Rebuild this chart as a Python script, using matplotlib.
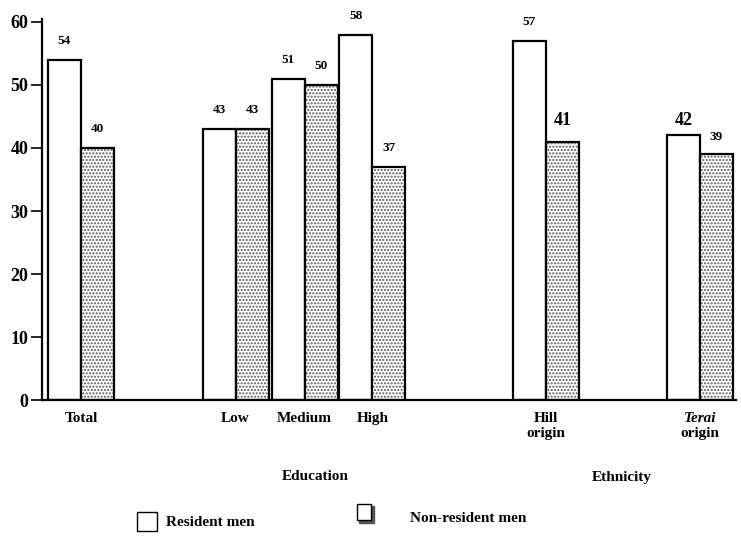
import numpy as np
import matplotlib
matplotlib.use("Agg")
import matplotlib.pyplot as plt
import matplotlib.patches as mpatches

categories = ["Total", "Low", "Medium", "High", "Hill\norigin", "Terai\norigin"]
resident = [54, 43, 51, 58, 57, 42]
non_resident = [40, 43, 50, 37, 41, 39]
positions = [1.18, 5.86, 7.95, 10.0, 15.26, 19.92]
yticks = [0, 10, 20, 30, 40, 50, 60]

plt.rcParams['font.family'] = ['Liberation Serif', 'DejaVu Serif']
plt.rcParams['hatch.linewidth'] = 1.0

fig = plt.figure(figsize=(7.41, 5.37), dpi=100)
ax = fig.add_axes([0.0567, 0.255, 0.936, 0.71])

w = 1.0
x = np.array(positions)
ax.bar(x - w / 2, resident, width=w, color='white', edgecolor='black', linewidth=1.6)
# stipple fill in grey, then black outline on top
ax.bar(x + w / 2, non_resident, width=w, color='white', edgecolor='#555555',
       linewidth=0, hatch='.....')
ax.bar(x + w / 2, non_resident, width=w, color='none', edgecolor='black', linewidth=1.6)

# value labels
r_off = [2.0, 2.0, 2.0, 2.0, 2.0, 1.0]
n_off = [2.0, 2.0, 2.0, 2.0, 2.0, 1.8]
for i in range(len(x)):
    fs_r = 9.5 if i != 5 else 13
    fs_n = 9.5 if i != 4 else 13
    ax.text(x[i] - w / 2, resident[i] + r_off[i], str(resident[i]), ha='center', va='bottom',
            fontsize=fs_r, fontweight='bold')
    ax.text(x[i] + w / 2, non_resident[i] + n_off[i], str(non_resident[i]), ha='center',
            va='bottom', fontsize=fs_n, fontweight='bold')

ax.set_xlim(0, 21.0)
ax.set_ylim(0, 60.5)
ax.set_yticks(yticks)
ax.set_yticklabels([str(t) for t in yticks], fontsize=13, fontweight='bold')
ax.tick_params(axis='y', direction='out', length=8, width=1.2, pad=2)
ax.set_xticks([])
ax.spines['top'].set_visible(False)
ax.spines['right'].set_visible(False)
ax.spines['left'].set_linewidth(1.6)
ax.spines['bottom'].set_linewidth(1.6)

# category labels
for i, c in enumerate(categories):
    if i == 5:
        ax.text(x[i], -1.9, "Terai", ha='center', va='top', fontsize=11,
                fontweight='bold', fontstyle='italic')
        ax.text(x[i], -4.3, "origin", ha='center', va='top', fontsize=11, fontweight='bold')
    else:
        ax.text(x[i], -1.9, c, ha='center', va='top', fontsize=11, fontweight='bold',
                linespacing=1.15)

fig.text(315 / 741, 1 - 477 / 537, "Education", ha='center', va='center',
         fontsize=11, fontweight='bold')
fig.text(622 / 741, 1 - 477 / 537, "Ethnicity", ha='center', va='center',
         fontsize=11, fontweight='bold')

# legend
fig.patches.append(mpatches.Rectangle((137 / 741, 1 - 531 / 537), 20 / 741, 19 / 537,
                                      transform=fig.transFigure, facecolor='white',
                                      edgecolor='black', linewidth=1.0))
fig.text(166 / 741, 1 - 522 / 537, "Resident men", ha='left', va='center',
         fontsize=11, fontweight='bold')
fig.patches.append(mpatches.Rectangle((359 / 741, 1 - 523 / 537), 15 / 741, 17 / 537,
                                      transform=fig.transFigure, facecolor='#555555',
                                      edgecolor='#555555', linewidth=1.0))
fig.patches.append(mpatches.Rectangle((357 / 741, 1 - 520 / 537), 14 / 741, 16 / 537,
                                      transform=fig.transFigure, facecolor='white',
                                      edgecolor='black', linewidth=1.0))
fig.text(410 / 741, 1 - 519 / 537, "Non-resident men", ha='left', va='center',
         fontsize=11, fontweight='bold')

fig.savefig("out.png", dpi=100)
